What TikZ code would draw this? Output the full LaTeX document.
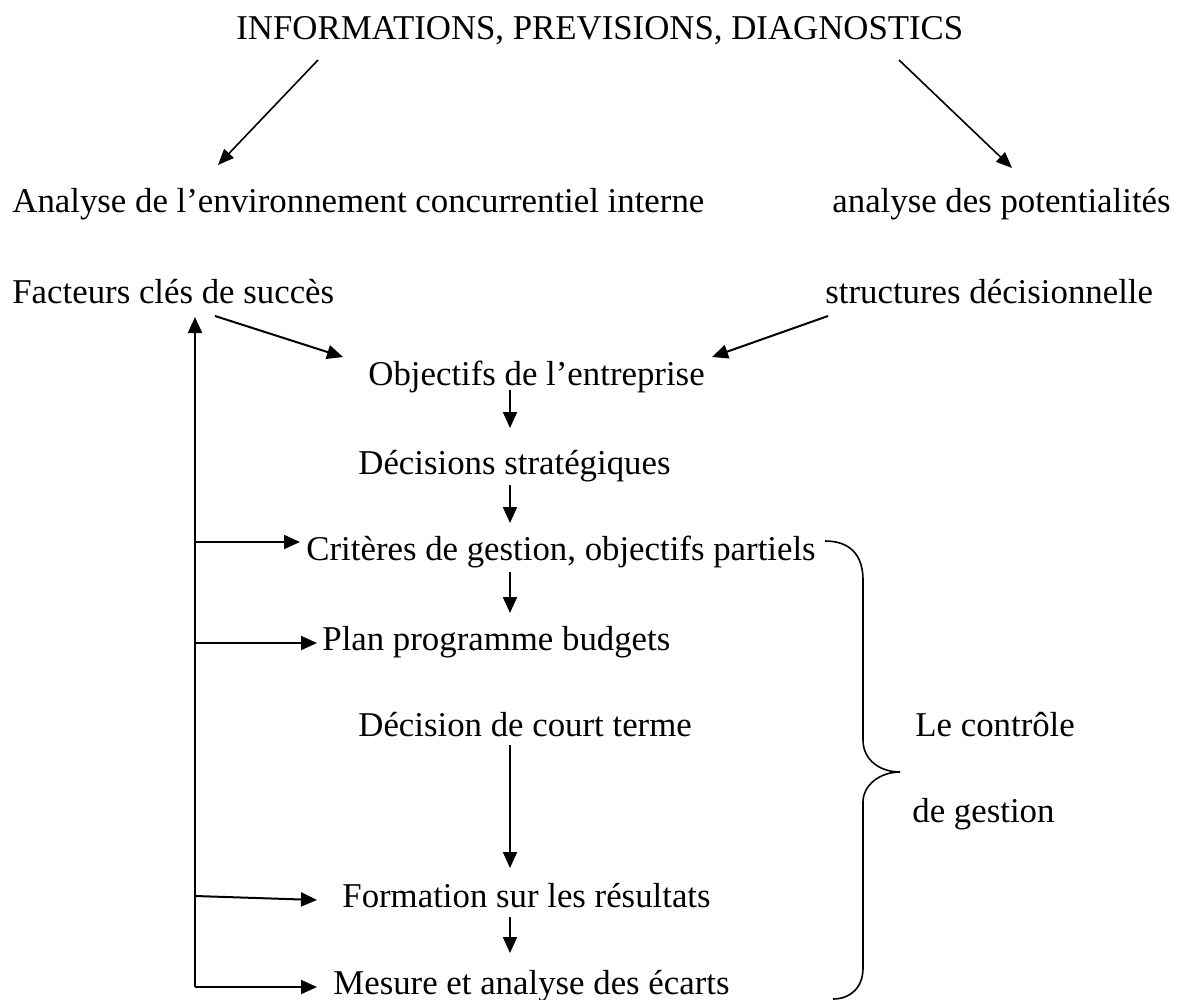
\documentclass[tikz,border=0pt]{standalone}
\usepackage{fontspec}
\setmainfont{Liberation Serif}
\usetikzlibrary{arrows.meta,calc}

\tikzset{
  lbl/.style={anchor=base west, inner sep=0pt, font=\fontsize{17.4}{20}\selectfont},
  arr/.style={line width=1pt, -{Triangle[length=8pt,width=7pt]}},
  thinarr/.style={line width=0.8pt, -{Triangle[length=8pt,width=6.5pt]}},
  bracepath/.style={line width=0.8pt}
}

\begin{document}
\begin{tikzpicture}[x=0.5pt,y=-0.5pt]
  \useasboundingbox (0,0) rectangle (1183,1000);

  % texts
  \node[lbl] (info)  at (236,40)  {INFORMATIONS, PREVISIONS, DIAGNOSTICS};
  \node[lbl] (env)   at (12,213)  {Analyse de l’environnement concurrentiel interne};
  \node[lbl] (pot)   at (832,213) {analyse des potentialités};
  \node[lbl] (fac)   at (12,303)  {Facteurs clés de succès};
  \node[lbl] (str)   at (825,303) {structures décisionnelle};
  \node[lbl] (obj)   at (368,385) {Objectifs de l’entreprise};
  \node[lbl] (dec)   at (358,474) {Décisions stratégiques};
  \node[lbl] (crit)  at (306,560) {Critères de gestion, objectifs partiels};
  \node[lbl] (plan)  at (322,650) {Plan programme budgets};
  \node[lbl] (court) at (358,736) {Décision de court terme};
  \node[lbl] (form)  at (342,907) {Formation sur les résultats};
  \node[lbl] (mes)   at (333,994) {Mesure et analyse des écarts};
  \node[lbl] (ctrla) at (915,736) {Le contrôle};
  \node[lbl] (ctrlb) at (912,822) {de gestion};

  % top split
  \draw[thinarr] ($(info.base west)+(82,20)$)  -- ($(env.base west)+(206,-48)$);
  \draw[thinarr] ($(info.base west)+(663,20)$) -- ($(pot.base west)+(180,-45)$);

  % inputs to the objectives
  \draw[arr] ($(fac.base west)+(203,13)$) -- ($(obj.base west)+(-25,-28)$);
  \draw[arr] ($(str.base west)+(3,13)$)   -- ($(obj.base west)+(344,-28)$);

  % main chain
  \draw[arr] ($(obj.base west)+(142,5)$)   -- ($(dec.base west)+(152,-46)$);
  \draw[arr] ($(dec.base west)+(152,11)$)  -- ($(crit.base west)+(204,-37)$);
  \draw[arr] ($(crit.base west)+(204,12)$) -- ($(plan.base west)+(188,-37)$);
  \draw[arr] ($(court.base west)+(152,9)$) -- ($(form.base west)+(168,-39)$);
  \draw[arr] ($(form.base west)+(168,10)$) -- ($(mes.base west)+(177,-41)$);

  % feedback loop
  \coordinate (fbcorner) at (195,987);
  \coordinate (fbcrit)   at (195,542);
  \coordinate (fbplan)   at (195,643);
  \coordinate (fbform)   at (195,896);
  \draw[arr] (fbcorner) -- ($(fac.base west)+(183,14)$);
  \draw[arr] (fbcorner) -- ($(mes.base west)+(-16,-7)$);
  \draw[arr] (fbcrit) -- ($(crit.base west)+(-6,-18)$);
  \draw[arr] (fbplan) -- ($(plan.base west)+(-5,-7)$);
  \draw[arr] (fbform) -- ($(form.base west)+(-25,-7)$);

  % brace around the management control steps
  \draw[bracepath] (825,541) .. controls (850,541) and (863,555) .. (863,580)
    -- (863,740) .. controls (863,760) and (880,772) .. (900,772)
    .. controls (880,772) and (863,785) .. (863,802)
    -- (863,968) .. controls (863,988) and (850,999) .. (833,999);
\end{tikzpicture}
\end{document}
